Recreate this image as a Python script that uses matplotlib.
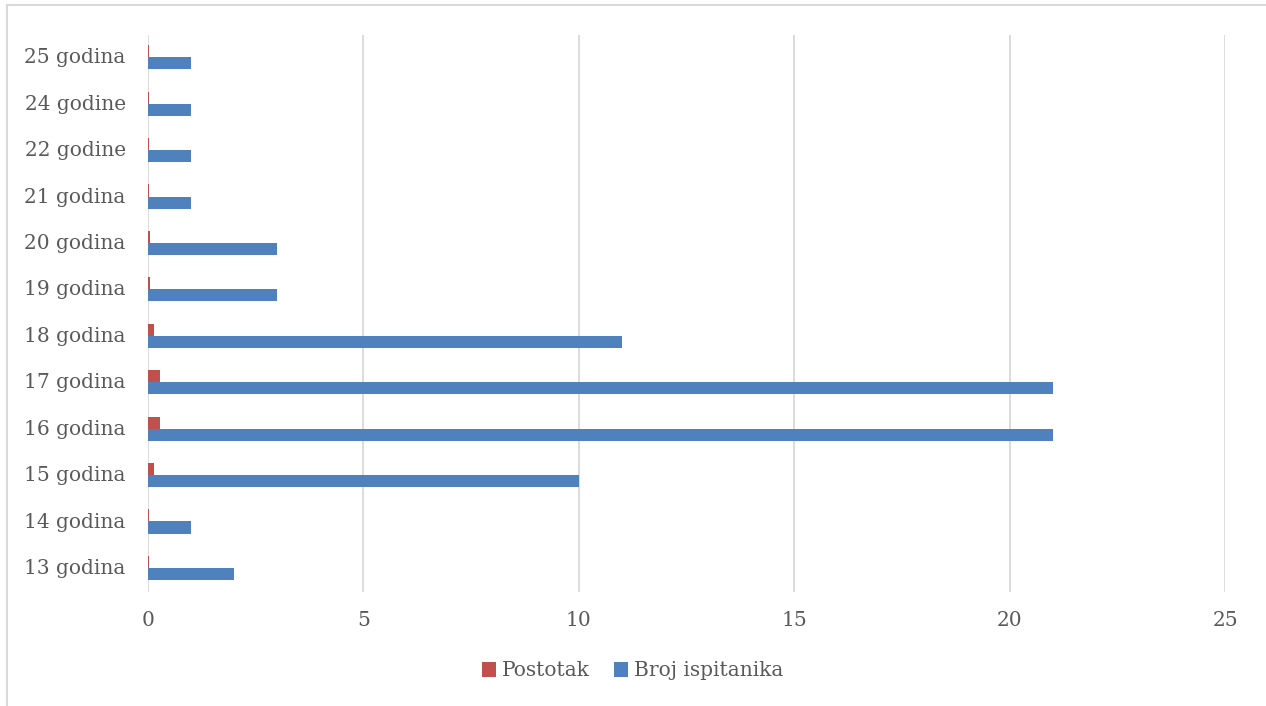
import matplotlib.pyplot as plt
import numpy as np

# podaci
kategorije = ['13 godina', '14 godina', '15 godina', '16 godina', '17 godina', '18 godina',
              '19 godina', '20 godina', '21 godina', '22 godine', '24 godine', '25 godina']
broj_ispitanika = [2, 1, 10, 21, 21, 11, 3, 3, 1, 1, 1, 1]
postotak = [0.026, 0.013, 0.13, 0.276, 0.276, 0.145, 0.039, 0.039, 0.013, 0.013, 0.013, 0.013]

plava = '#4f81bd'
crvena = '#c0504d'
siva = '#595959'

plt.rcParams['font.family'] = ['DejaVu Serif']

fig = plt.figure(figsize=(12.66, 7.06), dpi=100)
ax = fig.add_axes([148 / 1266, 1 - 592 / 706, (1225 - 148) / 1266, (592 - 35) / 706])

y = np.arange(len(kategorije))
h = 0.26
ax.barh(y - h / 2 + 0.02, broj_ispitanika, height=h, color=plava, label='Broj ispitanika', zorder=3)
ax.barh(y + h / 2 + 0.02, postotak, height=h, color=crvena, label='Postotak', zorder=3)

ax.set_xlim(0, 25)
ax.set_ylim(-0.5, len(kategorije) - 0.5)
ax.set_xticks([0, 5, 10, 15, 20, 25])
ax.set_yticks(y + 0.05)
ax.set_yticklabels(kategorije)
ax.tick_params(axis='both', length=0, labelsize=14.5, colors=siva)
ax.tick_params(axis='x', pad=14)
ax.tick_params(axis='y', pad=16)
ax.grid(axis='x', color='#d9d9d9', linewidth=1.3, zorder=0)
for s in ax.spines.values():
    s.set_visible(False)

handles, labels = ax.get_legend_handles_labels()
leg = fig.legend(handles[::-1], labels[::-1], loc='center', bbox_to_anchor=(0.5, 1 - 671 / 706),
                 ncol=2, frameon=False, fontsize=14.5, handlelength=0.7, handleheight=0.7,
                 handletextpad=0.3, columnspacing=1.2)
for t in leg.get_texts():
    t.set_color(siva)

# okvir grafikona
fig.add_artist(plt.Line2D([7 / 1266, 1], [1 - 5 / 706, 1 - 5 / 706], color='#d9d9d9', linewidth=1.5))
fig.add_artist(plt.Line2D([7 / 1266, 7 / 1266], [0, 1 - 5 / 706], color='#d9d9d9', linewidth=1.5))

fig.savefig('out.png', dpi=100)
